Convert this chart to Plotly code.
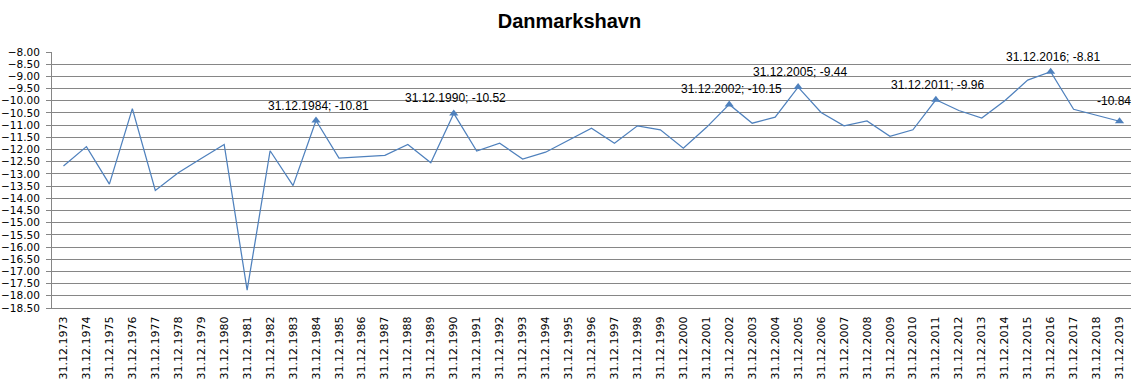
import plotly.graph_objects as go

years = list(range(1973, 2020))
categories = [f"31.12.{y}" for y in years]
values = [
    -12.68, -11.88, -13.42, -10.32, -13.68, -12.95, -12.37, -11.79, -17.77, -12.05,
    -13.48, -10.81, -12.35, -12.30, -12.24, -11.79, -12.54, -10.52, -12.06, -11.74,
    -12.39, -12.11, -11.61, -11.13, -11.74, -11.03, -11.19, -11.95, -11.10, -10.15,
    -10.92, -10.67, -9.44, -10.48, -11.03, -10.83, -11.46, -11.19, -9.96, -10.40,
    -10.71, -10.00, -9.15, -8.81, -10.35, -10.59, -10.84,
]
labeled_years = [1984, 1990, 2002, 2005, 2011, 2016, 2019]
label_texts = ["31.12.1984; -10.81", "31.12.1990; -10.52", "31.12.2002; -10.15",
               "31.12.2005; -9.44", "31.12.2011; -9.96", "31.12.2016; -8.81", "-10.84"]

blue = "#4F81BD"
fig = go.Figure()
fig.add_trace(go.Scatter(x=categories, y=values, mode="lines",
                         line=dict(color=blue, width=1.25), showlegend=False))
lab_x = [f"31.12.{y}" for y in labeled_years]
lab_y = [values[years.index(y)] for y in labeled_years]
fig.add_trace(go.Scatter(x=lab_x, y=lab_y, mode="markers",
                         marker=dict(symbol="triangle-up", size=8, color=blue),
                         showlegend=False))
for xv, yv, t in zip(lab_x, lab_y, label_texts):
    last = (t == label_texts[-1])
    fig.add_annotation(x=xv, y=yv, text=t, showarrow=False,
                       yshift=20 if last else 15, xshift=-6 if last else 2,
                       font=dict(family="Liberation Sans, Arial", size=12, color="#000000"))

fig.update_layout(
    width=1139, height=383,
    margin=dict(l=52, r=8, t=52, b=75, autoexpand=False),
    paper_bgcolor="white", plot_bgcolor="white",
    title=dict(text="<b>Danmarkshavn</b>", x=0.5, xanchor="center", y=0.945, yanchor="middle",
               font=dict(family="Liberation Sans, Arial", size=20, color="#000000")),
    xaxis=dict(type="category", range=[-0.5, 46.5], tickangle=-90, automargin=False,
               tickfont=dict(family="DejaVu Sans", size=11, color="#000000"),
               showgrid=False, showline=True, linecolor="#868686", linewidth=1,
               ticks="", zeroline=False, ticklabelstandoff=3),
    yaxis=dict(range=[-18.5, -8.0], dtick=0.5, tick0=-8, tickformat=".2f", automargin=False,
               tickfont=dict(family="DejaVu Sans", size=10.5, color="#000000"),
               showgrid=True, gridcolor="#868686", gridwidth=1,
               showline=True, linecolor="#868686", linewidth=1,
               ticks="outside", ticklen=5, tickcolor="#868686", zeroline=False,
               ticklabelstandoff=4),
)
fig.write_html("out.html", config={"displayModeBar": False},
               post_script="document.body.style.margin='0';document.body.style.padding='0';"
                           "document.body.style.overflow='hidden';")
